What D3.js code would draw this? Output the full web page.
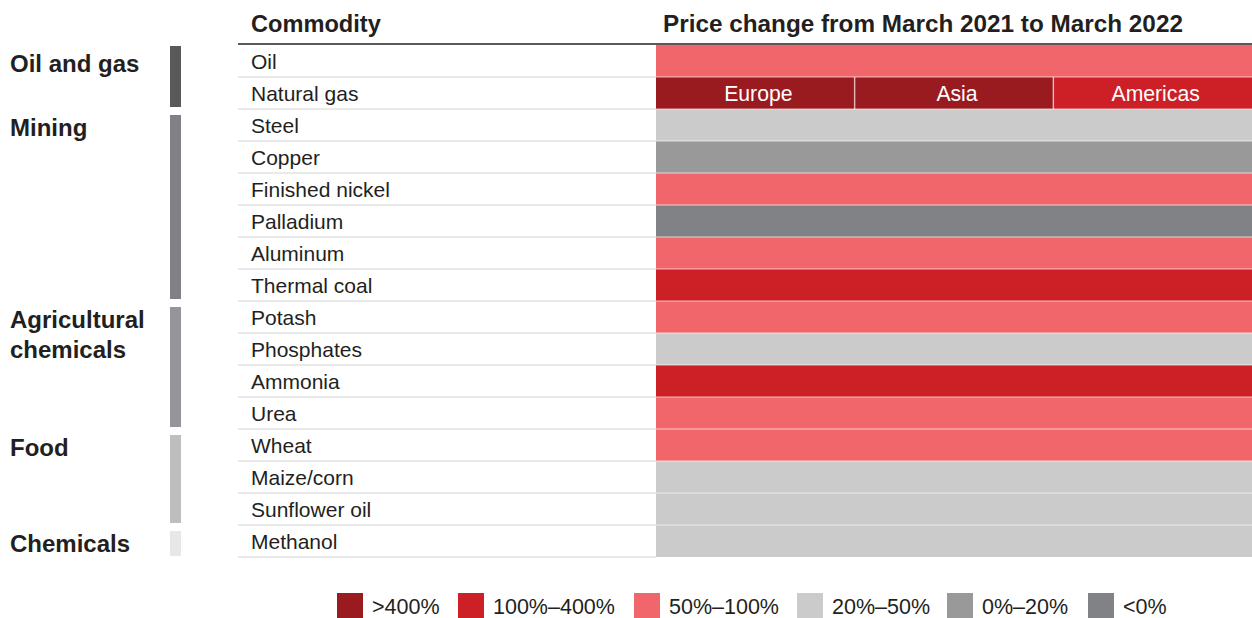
<!DOCTYPE html>
<html><head><meta charset="utf-8">
<script src="https://cdn.jsdelivr.net/npm/d3@7"></script>
<style>body{margin:0;background:#fff;} text{font-family:"Liberation Sans",Arial,sans-serif;fill:#231f20;}</style>
</head><body><svg id="c" width="1252" height="618"></svg>
<script>
const commodities = ["Oil","Natural gas","Steel","Copper","Finished nickel","Palladium","Aluminum","Thermal coal","Potash","Phosphates","Ammonia","Urea","Wheat","Maize/corn","Sunflower oil","Methanol"];
const priceClass = ["50%–100%",null,"20%–50%","0%–20%","50%–100%","<0%","50%–100%","100%–400%","50%–100%","20%–50%","100%–400%","50%–100%","50%–100%","20%–50%","20%–50%","20%–50%"];
const gasRegions = ["Europe","Asia","Americas"];
const gasClass = [">400%",">400%","100%–400%"];
const groups = ["Oil and gas","Mining","Agricultural chemicals","Food","Chemicals"];
const groupStart = [0,2,8,12,15];
const groupEnd = [1,7,11,14,15];
const groupLabelLines = [["Oil and gas"],["Mining"],["Agricultural","chemicals"],["Food"],["Chemicals"]];
const groupColors = ["#58595b","#808184","#939598","#bcbec0","#e6e7e8"];
const legendLabels = [">400%","100%–400%","50%–100%","20%–50%","0%–20%","<0%"];
const legendColors = ["#9a1b1f","#cc1f26","#f0666a","#cbcbcb","#999999","#818285"];

const svg = d3.select("#c");
const color = d3.scaleOrdinal().domain(legendLabels).range(legendColors);
const y = d3.scaleBand().domain(d3.range(commodities.length)).range([45,557]).paddingInner(0);
const x0 = 238, xc = 656, xr = 1252;
const xg = d3.scaleBand().domain(gasRegions).range([xc, xr]);

// headers
svg.append("text").attr("x",251).attr("y",32).attr("font-size",23.6).attr("font-weight","bold").text("Commodity");
svg.append("text").attr("x",663).attr("y",32).attr("font-size",24.3).attr("font-weight","bold").text("Price change from March 2021 to March 2022");

// cells
commodities.forEach((c,i)=>{
  if(priceClass[i]){
    svg.append("rect").attr("x",xc).attr("y",y(i)).attr("width",xr-xc).attr("height",y.bandwidth()).attr("fill",color(priceClass[i]));
  } else {
    gasRegions.forEach((r,j)=>{
      svg.append("rect").attr("x",xg(r)).attr("y",y(i)).attr("width",xg.bandwidth()).attr("height",y.bandwidth()).attr("fill",color(gasClass[j]));
      if(j>0) svg.append("line").attr("x1",xg(r)).attr("x2",xg(r)).attr("y1",y(i)).attr("y2",y(i)+y.bandwidth()).attr("stroke","#fff").attr("stroke-opacity",0.6).attr("stroke-width",1.5);
      svg.append("text").attr("x",xg(r)+xg.bandwidth()/2+3).attr("y",y(i)+y.bandwidth()/2+7.5).attr("text-anchor","middle").attr("font-size",21.2).style("fill","#fff").text(r);
    });
  }
  svg.append("text").attr("x",251).attr("y",y(i)+y.bandwidth()/2+7.5).attr("font-size",21).text(c);
});
// row separators
d3.range(1,commodities.length+1).forEach(i=>{
  const yy = i<commodities.length ? y(i) : 557;
  svg.append("line").attr("x1",x0).attr("x2",xc).attr("y1",yy).attr("y2",yy).attr("stroke","#e3e3e3").attr("stroke-width",1.5);
  if(i<commodities.length) svg.append("line").attr("x1",xc).attr("x2",xr).attr("y1",yy).attr("y2",yy).attr("stroke","#fff").attr("stroke-opacity",0.45).attr("stroke-width",1.5);
});
// header line
svg.append("line").attr("x1",x0).attr("x2",xr).attr("y1",44).attr("y2",44).attr("stroke","#58595b").attr("stroke-width",2);

// groups
const tops = groups.map((g,k)=> y(groupStart[k]) + (k===0 ? 1 : 6));
groups.forEach((g,k)=>{
  const top = tops[k];
  const bot = k < groups.length-1 ? tops[k+1]-8 : y(groupEnd[k])+y.bandwidth()-1;
  svg.append("rect").attr("x",170).attr("y",top).attr("width",11).attr("height",bot-top).attr("fill",groupColors[k]);
  groupLabelLines[k].forEach((ln,m)=>{
    svg.append("text").attr("x",10).attr("y",y(groupStart[k])+26.5+m*30).attr("font-size",24).attr("font-weight","bold").text(ln);
  });
});

// legend
const legX = [337,458,634,797,947,1088];
legendLabels.forEach((l,i)=>{
  svg.append("rect").attr("x",legX[i]).attr("y",593).attr("width",26).attr("height",25).attr("fill",legendColors[i]);
  svg.append("text").attr("x",legX[i]+35).attr("y",614).attr("font-size",21.5).text(l);
});
</script></body></html>
